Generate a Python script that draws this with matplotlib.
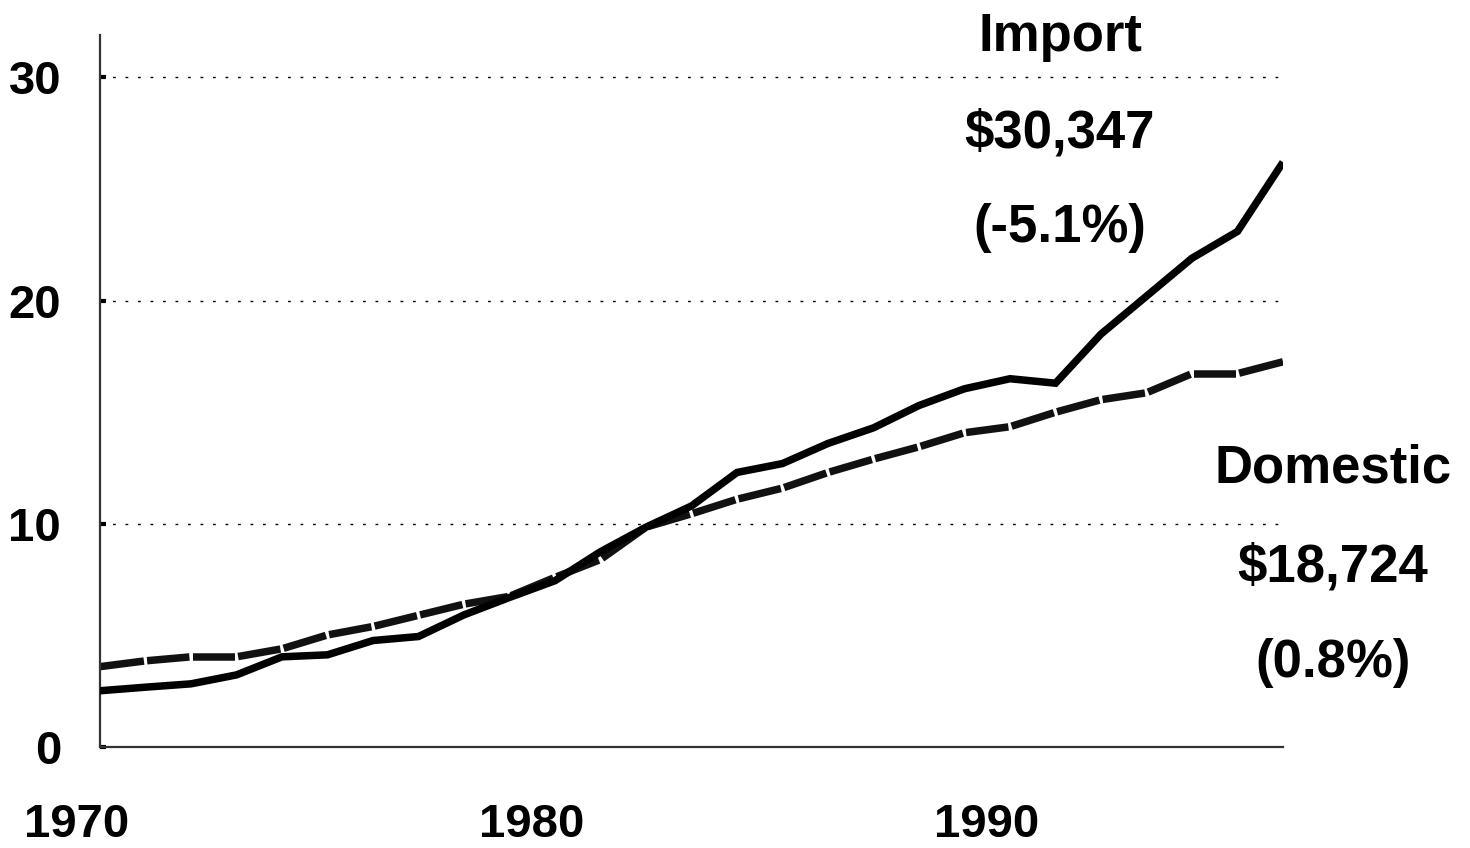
import matplotlib
matplotlib.use("Agg")
import matplotlib.pyplot as plt
import matplotlib.transforms as mtransforms
from matplotlib.collections import LineCollection
import numpy as np

plt.rcParams['font.family'] = ['Liberation Sans', 'DejaVu Sans']

years = list(range(1970, 1997))
import_vals = [2.52, 2.68, 2.83, 3.23, 4.04, 4.13, 4.77, 4.95, 5.92, 6.70, 7.45,
               8.75, 9.85, 10.8, 12.3, 12.7, 13.6, 14.3, 15.3, 16.05, 16.5,
               16.3, 18.5, 20.2, 21.9, 23.1, 26.2]
domestic_vals = [3.6, 3.86, 4.04, 4.04, 4.4, 5.02, 5.4, 5.9, 6.4, 6.75, 7.6,
                 8.4, 9.85, 10.45, 11.1, 11.6, 12.3, 12.9, 13.45, 14.08, 14.35,
                 15.0, 15.56, 15.87, 16.73, 16.73, 17.26]
y_ticks = [0, 10, 20, 30]
x_ticks = [1970, 1980, 1990]
import_label = ["Import", "$30,347", "(-5.1%)"]
domestic_label = ["Domestic", "$18,724", "(0.8%)"]

W, H = 1470, 848
fig = plt.figure(figsize=(W / 100, H / 100), dpi=100)
ax = fig.add_axes([100 / W, (H - 747) / H, (1283 - 100) / W, (747 - 35) / H])

ax.set_xlim(years[0], years[-1])
ax.set_ylim(0, 31.9)

# gridlines
for yv in y_ticks[1:]:
    ax.axhline(yv, color='black', lw=1.0, linestyle=(0, (2, 7)), zorder=1)

# Import: solid thick line
ax.plot(years, import_vals, color='black', lw=5.4, solid_joinstyle='miter',
        solid_capstyle='butt', zorder=3)

# Domestic: segmented line with small gaps at each data point
segs = []
frac = 0.035
for i in range(len(years) - 1):
    x0, x1 = years[i], years[i + 1]
    y0, y1 = domestic_vals[i], domestic_vals[i + 1]
    dx, dy = x1 - x0, y1 - y0
    a = frac if i > 0 else 0
    b = frac if i < len(years) - 2 else 0
    segs.append([(x0 + a * dx, y0 + a * dy), (x1 - b * dx, y1 - b * dy)])
lc = LineCollection(segs, colors='#111111', linewidths=5.4, capstyle='butt', zorder=2)
ax.add_collection(lc)

# spines
for s in ['top', 'right']:
    ax.spines[s].set_visible(False)
ax.spines['left'].set_color('#333333')
ax.spines['bottom'].set_color('#333333')
ax.spines['left'].set_linewidth(1.6)
ax.spines['bottom'].set_linewidth(1.6)

ax.set_yticks(y_ticks)
ax.set_yticklabels([str(v) for v in y_ticks], fontsize=34, fontweight='bold')
ax.tick_params(axis='y', direction='in', length=4, width=3, pad=28)

ax.set_xticks(x_ticks)
ax.set_xticklabels([str(v) for v in x_ticks], fontsize=34, fontweight='bold')
ax.tick_params(axis='x', length=0, pad=40)
offset = mtransforms.ScaledTranslation(-23 / 100, 0, fig.dpi_scale_trans)
for lab in ax.get_xticklabels():
    lab.set_transform(lab.get_transform() + offset)

# annotations
for txt, yp in zip(import_label, [37, 133, 228]):
    fig.text(1060 / W, 1 - yp / H, txt, ha='center', va='center',
             fontsize=38, fontweight='bold')
for txt, yp in zip(domestic_label, [468, 568, 663]):
    fig.text(1333 / W, 1 - yp / H, txt, ha='center', va='center',
             fontsize=38, fontweight='bold')

fig.savefig("out.png", dpi=100)
